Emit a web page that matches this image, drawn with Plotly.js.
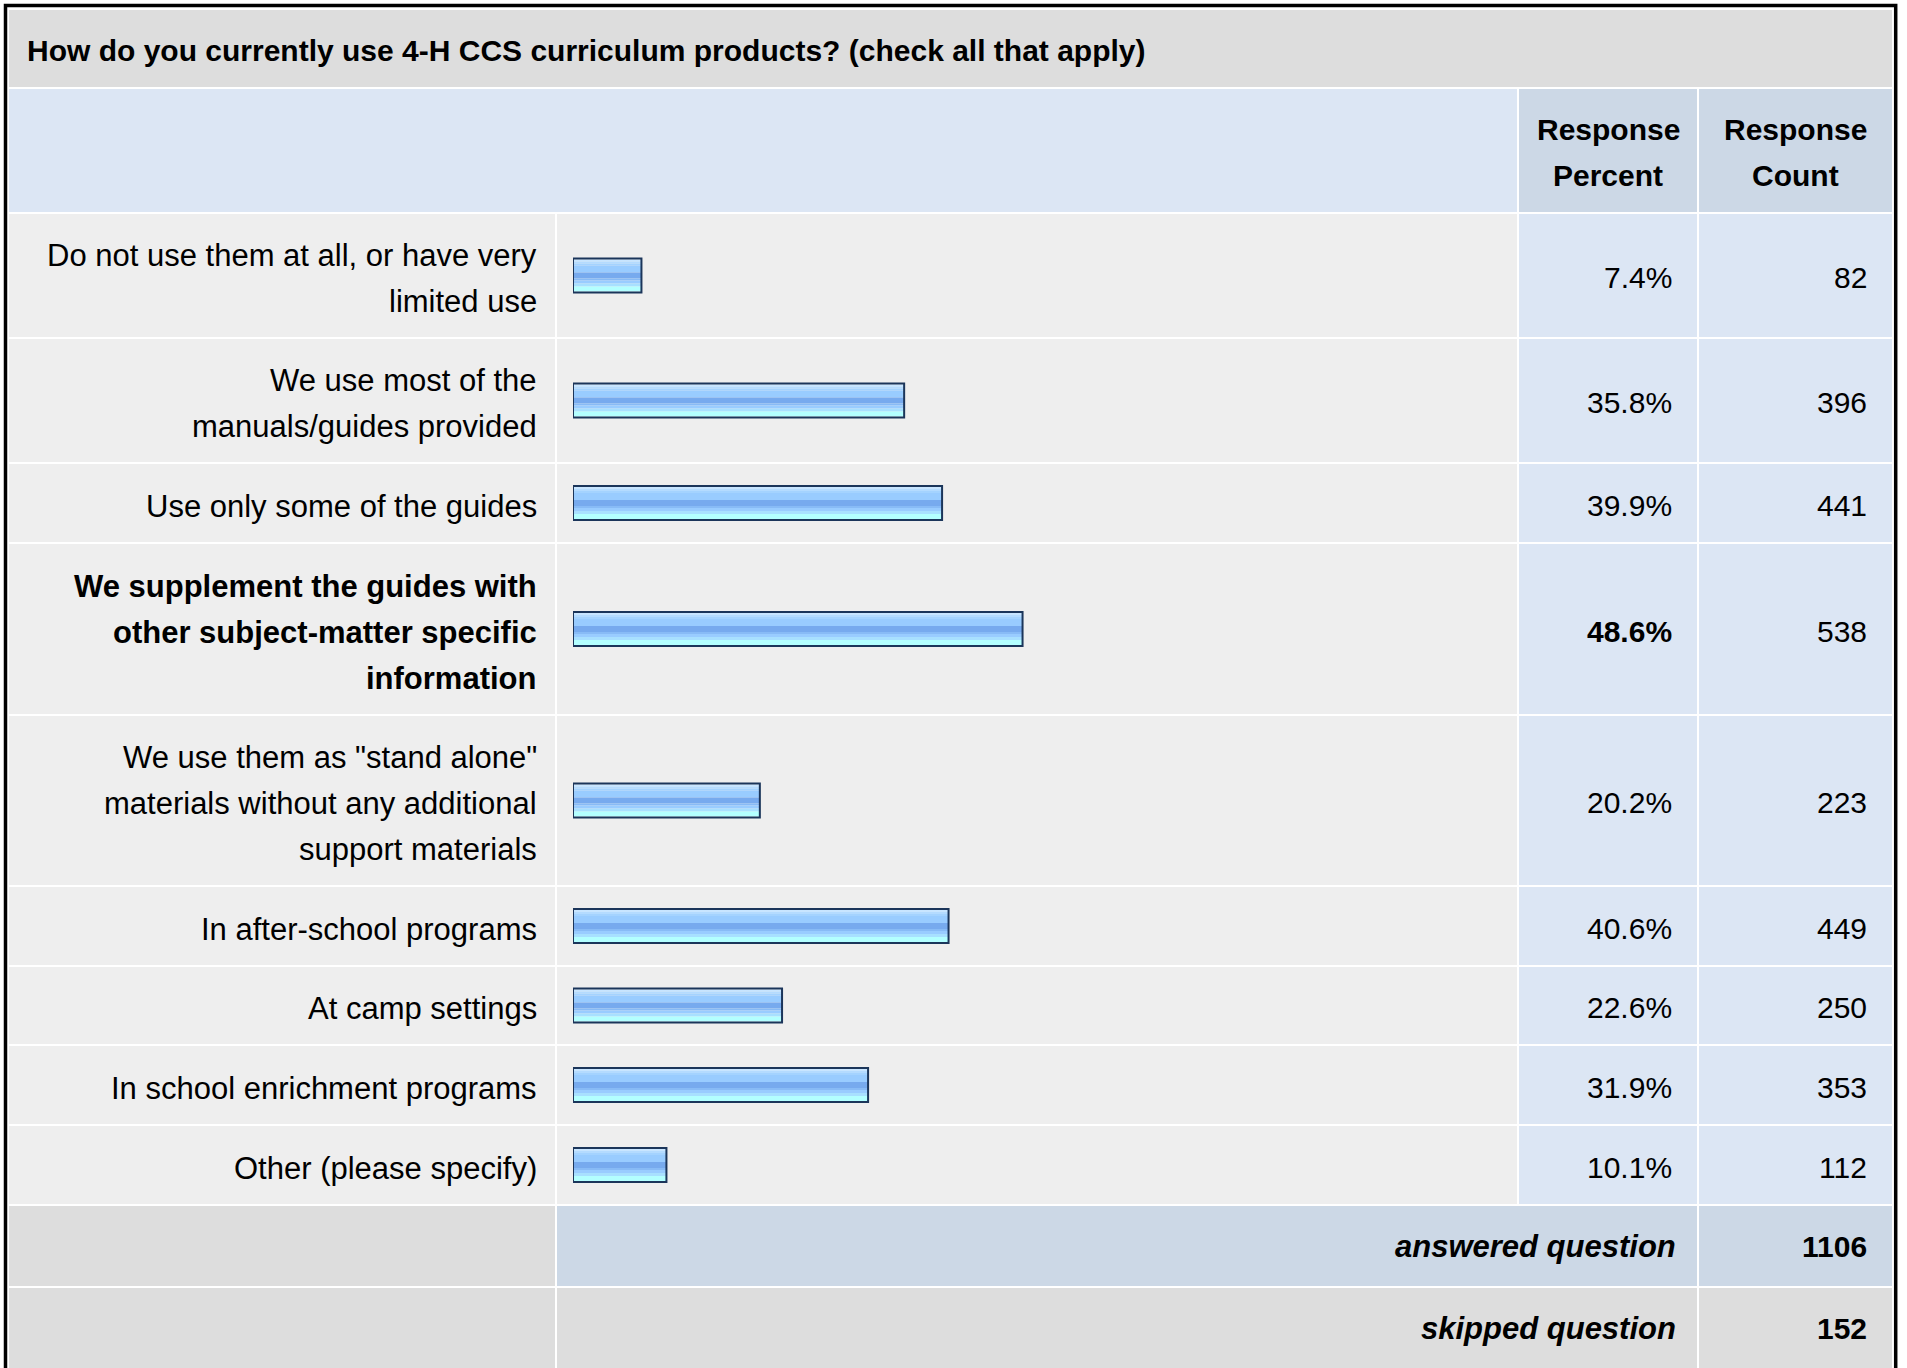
<!DOCTYPE html>
<html><head><meta charset="utf-8">
<script src="https://cdn.plot.ly/plotly-3.0.1.min.js"></script>
<style>html,body{margin:0;padding:0;background:#fff;}#chart{width:1907px;height:1368px;}</style>
</head><body><div id="chart"></div>
<script>
// ---------- data ----------
const questionTitle = "How do you currently use 4-H CCS curriculum products? (check all that apply)";
const categories = [
  "Do not use them at all, or have very<br>limited use",
  "We use most of the<br>manuals/guides provided",
  "Use only some of the guides",
  "We supplement the guides with<br>other subject-matter specific<br>information",
  "We use them as \"stand alone\"<br>materials without any additional<br>support materials",
  "In after-school programs",
  "At camp settings",
  "In school enrichment programs",
  "Other (please specify)"
];
const responsePercent = [7.4, 35.8, 39.9, 48.6, 20.2, 40.6, 22.6, 31.9, 10.1];
const responseCount = [82, 396, 441, 538, 223, 449, 250, 353, 112];
const headerLabels = ["Response<br>Percent", "Response<br>Count"];
const summaryLabels = ["answered question", "skipped question"];
const summaryValues = [1106, 152];

// ---------- layout constants (pixels) ----------
const W = 1907, H = 1368;
const FONT = "Liberation Sans, Arial, Helvetica, sans-serif";
const FS = 30, FS_LABEL = 31, LINE = 46;
const cL = 9, labR = 555, barL = 557, barR = 1517, pctL = 1519, pctR = 1697, cntL = 1699, cntR = 1892;
const titleTop = 10, titleBot = 87, headTop = 89, headBot = 212, rowsTop = 214, GAP = 2;
const rowHeights = [123, 123, 78, 170, 169, 78, 77, 78, 78];
const summaryH = 80;
const BAR_X0 = 573, BAR_X100 = 1498;

const C_TITLE = "#dddddd", C_HEAD = "#dce6f4", C_HEAD2 = "#ccd8e6", C_CELL = "#eeeeee", C_NUM = "#dce6f4";

const shapes = [], annotations = [];
function rect(x0, y0, x1, y1, color) {
  shapes.push({type: "rect", xref: "paper", yref: "paper", layer: "below",
    x0: x0 / W, x1: x1 / W, y0: 1 - y1 / H, y1: 1 - y0 / H,
    fillcolor: color, line: {width: 0}});
}
function text(x, y, str, anchor, size) {
  annotations.push({xref: "paper", yref: "paper", x: x / W, y: 1 - y / H,
    xanchor: anchor, yanchor: "middle", showarrow: false, text: str,
    font: {family: FONT, size: size || FS, color: "#000"}, borderpad: 0});
}
function multiline(x, yc, str, anchor, wrap, size) {
  const lines = str.split("<br>");
  const n = lines.length;
  lines.forEach((ln, i) => text(x, yc + (i - (n - 1) / 2) * LINE, wrap(ln), anchor, size));
}

// title band
rect(cL, titleTop, cntR, titleBot, C_TITLE);
text(26, (titleTop + titleBot) / 2 + 2, "<b>" + questionTitle + "</b>", "left");

// header band
rect(cL, headTop, barR, headBot, C_HEAD);
rect(pctL, headTop, pctR, headBot, C_HEAD2);
rect(cntL, headTop, cntR, headBot, C_HEAD2);
const hc = (headTop + headBot) / 2 + 2;
multiline((pctL + pctR) / 2, hc, headerLabels[0], "center", s => "<b>" + s + "</b>");
multiline((cntL + cntR) / 2, hc, headerLabels[1], "center", s => "<b>" + s + "</b>");

// data rows
const maxPct = Math.max(...responsePercent);
const centers = [];
let y = rowsTop;
rowHeights.forEach((h, i) => {
  rect(cL, y, labR, y + h, C_CELL);
  rect(barL, y, barR, y + h, C_CELL);
  rect(pctL, y, pctR, y + h, C_NUM);
  rect(cntL, y, cntR, y + h, C_NUM);
  const c = y + h / 2;
  centers.push(c);
  const isMax = responsePercent[i] === maxPct;
  const wrapB = s => isMax ? "<b>" + s + "</b>" : s;
  multiline(labR - 17, c + 3, categories[i], "right", wrapB, FS_LABEL);
  text(pctR - 24, c + 2, wrapB(responsePercent[i].toFixed(1) + "%"), "right");
  text(cntR - 24, c + 2, String(responseCount[i]), "right");
  y += h + GAP;
});

// summary rows
summaryLabels.forEach((lab, i) => {
  const midColor = i === 0 ? C_HEAD2 : C_TITLE;
  rect(cL, y, labR, y + summaryH, C_TITLE);
  rect(barL, y, pctR, y + summaryH, midColor);
  rect(cntL, y, cntR, y + summaryH, midColor);
  const c = y + summaryH / 2;
  text(pctR - 20, c, "<b><i>" + lab + "</i></b>", "right", FS_LABEL);
  text(cntR - 24, c, "<b>" + summaryValues[i] + "</b>", "right");
  y += summaryH + GAP;
});

// outer frame
shapes.push({type: "rect", xref: "paper", yref: "paper", layer: "above",
  x0: 5.5 / W, x1: 1895.7 / W, y0: 1 - 1400 / H, y1: 1 - 5.5 / H,
  fillcolor: "rgba(0,0,0,0)", line: {color: "#000", width: 3.5}});

// ---------- bars (glossy stripes + outline) ----------
const stripes = [[2, "#c8e5ff"], [2, "#b4dbff"], [2, "#a4d3ff"], [7, "#99ccff"], [6, "#77aaee"],
                 [2, "#88bbf6"], [3, "#99ccff"], [3, "#a8e0ff"], [5, "#b3ffff"]];
const traces = [];
let off = -16;
stripes.forEach(([h, col]) => {
  traces.push({type: "bar", orientation: "h", x: responsePercent, y: centers,
    width: h, offset: off, marker: {color: col, line: {width: 0}}, hoverinfo: "skip"});
  off += h;
});
traces.push({type: "bar", orientation: "h", x: responsePercent, y: centers,
  width: 34, offset: -17,
  marker: {color: "rgba(0,0,0,0)", line: {color: "#1b355a", width: 2}}, hoverinfo: "skip"});

const layout = {
  width: W, height: H, margin: {l: 0, r: 0, t: 0, b: 0, pad: 0},
  paper_bgcolor: "#ffffff", plot_bgcolor: "rgba(0,0,0,0)",
  showlegend: false, barmode: "overlay",
  xaxis: {domain: [BAR_X0 / W, BAR_X100 / W], range: [0, 100], visible: false, fixedrange: true},
  yaxis: {domain: [0, 1], range: [H, 0], visible: false, fixedrange: true},
  shapes: shapes, annotations: annotations
};
Plotly.newPlot("chart", traces, layout, {displayModeBar: false, staticPlot: true});
</script></body></html>
